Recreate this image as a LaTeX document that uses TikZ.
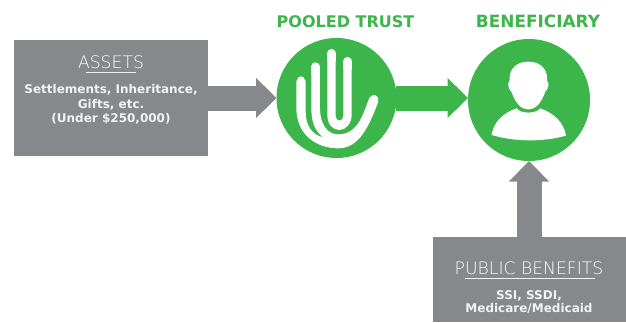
\documentclass[tikz,border=0pt]{standalone}
\usepackage{fontspec}
\setmainfont{DejaVu Sans}
\newfontfamily\thinfont{DejaVu Sans ExtraLight}
\usetikzlibrary{arrows.meta,calc}
\definecolor{boxgray}{HTML}{87888B}
\definecolor{leaf}{HTML}{3CB54A}
\definecolor{paper}{HTML}{F2F2F2}
\tikzset{
  panel/.style={fill=boxgray,draw=none,inner sep=0pt,outer sep=0pt,anchor=north west},
  disc/.style={circle,fill=leaf,draw=none,inner sep=0pt,outer sep=0pt},
  blockgray/.style={draw=boxgray,line width=25pt,shorten <=-1pt,-{Triangle[length=20.5pt,width=39pt,fill=boxgray]}},
  blockgreen/.style={draw=leaf,line width=25pt,shorten <=-1pt,-{Triangle[length=20.5pt,width=39pt,fill=leaf]}},
  headline/.style={anchor=base,text=leaf,font=\bfseries\fontsize{16}{18}\selectfont,inner sep=0pt},
  boxtitle/.style={anchor=base,text=white,font=\thinfont\fontsize{17.2}{20}\selectfont,inner sep=0pt},
  boxbody/.style={anchor=base,text=paper,font=\bfseries\fontsize{12}{14}\selectfont,inner sep=0pt},
  rule/.style={draw=paper,line width=0.8pt},
  finger/.style={draw=white,line width=8.7pt,line cap=round},
}
\begin{document}
\begin{tikzpicture}[x=1pt,y=-1pt]
\useasboundingbox (0,0) rectangle (626,322);
\node[panel,minimum width=194pt,minimum height=116pt] (assets) at (14,40) {};
\node[panel,minimum width=193pt,minimum height=85pt] (benefits) at (433,237) {};
\node[disc,minimum size=120pt] (trust) at (336.5,98) {};
\node[disc,minimum size=122pt] (bene) at (529,100) {};
\draw[blockgray] (assets.east) -- (trust.west);
\draw[blockgreen] (trust.east) -- (trust.east -| bene.west);
\draw[blockgray] (benefits.north -| bene.south) -- (bene.south);
\node[headline] (t1) at (345.5,27) {POOLED TRUST};
\node[headline,font=\bfseries\fontsize{16.9}{18}\selectfont] (t2) at (538,27) {BENEFICIARY};
\node[boxtitle] (a0) at (111,68) {ASSETS};
\coordinate (a1) at (86,72.7); \coordinate (a2) at (136,72.7);
\draw[rule] (a1) -- (a2);
\node[boxbody] (a3) at (111,93) {Settlements, Inheritance,};
\node[boxbody] (a4) at (111,108) {Gifts, etc.};
\node[boxbody] (a5) at (111,122) {(Under \$250,000)};
\node[boxtitle] (b0) at (529,274) {PUBLIC BENEFITS};
\coordinate (b1) at (465,278); \coordinate (b2) at (595,278);
\draw[rule] (b1) -- (b2);
\node[boxbody] (b3) at (529,299) {SSI, SSDI,};
\node[boxbody] (b4) at (529,312) {Medicare/Medicaid};
% hand
\begin{scope}[shift={(270,40)},x=0.3333pt,y=-0.3333pt]
\fill[white] (79,122) -- (79,205)
  .. controls (80,285) and (140,325) .. (205,325)
  .. controls (265,325) and (295,265) .. (325,185) -- (300,170)
  .. controls (280,215) and (268,283) .. (205,283)
  .. controls (170,283) and (150,250) .. (150,205)
  -- (150,80) -- (124,80) -- (124,205)
  .. controls (124,245) and (135,275) .. (160,292)
  .. controls (125,285) and (107,255) .. (107,215)
  -- (107,122) -- cycle;
\draw[finger] (93,122) -- (93,140);
\draw[finger] (137,80) -- (137,100);
\draw[finger] (312,178) -- (306,190);
\fill[white] (172,225) .. controls (172,255) and (190,270) .. (208,270)
  .. controls (228,270) and (245,250) .. (245,225)
  -- (245,64) -- (220,64) -- (220,228)
  .. controls (220,246) and (197,246) .. (197,228)
  -- (197,40) -- (172,40) -- cycle;
\draw[finger] (184.5,40) -- (184.5,60);
\draw[finger] (232.5,64) -- (232.5,84);
\end{scope}
% person
\begin{scope}[shift={(460,40)},x=0.3333pt,y=-0.3333pt]
\fill[white] (205,65) .. controls (248,65) and (264,95) .. (261,122)
  .. controls (269,130) and (266,145) .. (256,155)
  .. controls (245,185) and (230,208) .. (205,208)
  .. controls (180,208) and (165,185) .. (154,155)
  .. controls (144,145) and (141,130) .. (149,122)
  .. controls (146,95) and (162,65) .. (205,65) -- cycle;
\fill[white] (95,285) .. controls (100,250) and (125,220) .. (170,205)
  .. controls (180,222) and (230,222) .. (240,205)
  .. controls (285,220) and (312,250) .. (318,287)
  .. controls (250,306) and (165,306) .. (95,285) -- cycle;
\end{scope}
\end{tikzpicture}
\end{document}
